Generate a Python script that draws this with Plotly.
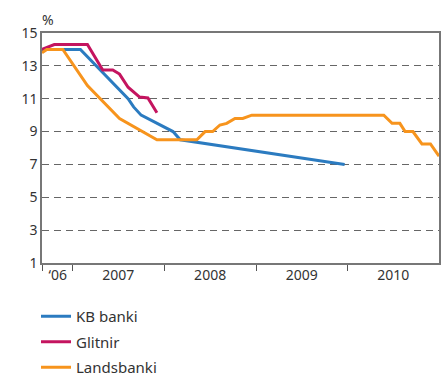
import plotly.graph_objects as go

kb_dates = ["2006-09-01", "2007-02-01", "2007-08-10", "2007-09-01", "2007-10-01",
            "2008-02-05", "2008-03-05", "2009-12-20"]
kb_vals = [14.0, 14.0, 11.0, 10.5, 10.0, 9.0, 8.5, 7.0]

gl_dates = ["2006-09-01", "2006-10-20", "2007-03-01", "2007-05-01", "2007-06-10",
            "2007-07-07", "2007-08-10", "2007-09-25", "2007-10-28", "2007-12-03"]
gl_vals = [14.0, 14.3, 14.3, 12.75, 12.75, 12.5, 11.7, 11.1, 11.05, 10.15]

la_dates = ["2006-09-01", "2006-09-20", "2006-11-23", "2007-03-01", "2007-07-07",
            "2007-08-10", "2007-09-25", "2007-12-03", "2008-05-10", "2008-06-12",
            "2008-07-12", "2008-08-10", "2008-09-06", "2008-10-09", "2008-11-09",
            "2008-12-15", "2010-05-25", "2010-06-27", "2010-07-28", "2010-08-18",
            "2010-09-18", "2010-10-24", "2010-11-27", "2010-12-31"]
la_vals = [13.8, 14.0, 14.0, 11.8, 9.8, 9.5, 9.1, 8.5, 8.5, 9.0,
           9.0, 9.4, 9.5, 9.8, 9.8, 10.0, 10.0, 9.5, 9.5, 9.0,
           9.0, 8.25, 8.25, 7.5]

year_bounds = ["2006-09-01", "2007-01-01", "2008-01-01", "2009-01-01", "2010-01-01"]
year_label_pos = ["2006-11-03", "2007-07-02", "2008-07-02", "2009-07-02", "2010-07-02"]
year_labels = ["‘06", "2007", "2008", "2009", "2010"]
y_ticks = [1, 3, 5, 7, 9, 11, 13, 15]

FONT = "Noto Sans"
TXT = "#333333"

fig = go.Figure()
fig.add_trace(go.Scatter(x=kb_dates, y=kb_vals, mode="lines", name="KB banki",
                         legendgroup="a", line=dict(color="#2b7bc0", width=3)))
fig.add_trace(go.Scatter(x=gl_dates, y=gl_vals, mode="lines", name="Glitnir",
                         legendgroup="b", line=dict(color="#c4145f", width=3)))
fig.add_trace(go.Scatter(x=la_dates, y=la_vals, mode="lines", name="Landsbanki",
                         legendgroup="c", line=dict(color="#f7941d", width=3)))
# invisible trace to activate label axis
fig.add_trace(go.Scatter(x=[year_bounds[0]], y=[1], xaxis="x2", mode="markers",
                         marker=dict(opacity=0), showlegend=False, hoverinfo="skip"))

xr = ["2006-09-01", "2010-12-31"]
fig.update_layout(
    width=441, height=379,
    margin=dict(l=42, r=2, t=33, b=116, autoexpand=False),
    paper_bgcolor="white", plot_bgcolor="white",
    font=dict(family=FONT, size=14, color=TXT),
    xaxis=dict(type="date", range=xr, tickvals=year_bounds,
               ticktext=[""] * len(year_bounds), ticks="outside", ticklen=6,
               tickcolor="#555", tickwidth=1.2, showgrid=False, automargin=False,
               showline=True, linecolor="#777", linewidth=1.5, mirror=True, zeroline=False),
    xaxis2=dict(type="date", range=xr, overlaying="x", side="bottom",
                tickvals=year_label_pos, ticktext=year_labels, ticks="",
                showgrid=False, showline=False, zeroline=False, automargin=False,
                ticklabelstandoff=2, tickfont=dict(size=14, color=TXT)),
    yaxis=dict(range=[1, 15], tickvals=y_ticks, ticks="", showgrid=True,
               gridcolor="#666", griddash="7px,5px", gridwidth=1.2, automargin=False,
               showline=True, linecolor="#777", linewidth=1.5, mirror=True,
               zeroline=False, tickfont=dict(size=14, color=TXT)),
    legend=dict(xref="container", yref="container", x=36 / 441, y=1 - 300 / 379,
                xanchor="left", yanchor="top", tracegroupgap=3,
                font=dict(size=15, color=TXT), bgcolor="rgba(0,0,0,0)"),
    showlegend=True,
    annotations=[dict(text="%", x=0.0, y=1.0, xref="paper", yref="paper",
                      xanchor="left", yanchor="bottom", showarrow=False, xshift=-2, yshift=2,
                      font=dict(size=14, color=TXT))],
)
fig.write_html("out.html")
